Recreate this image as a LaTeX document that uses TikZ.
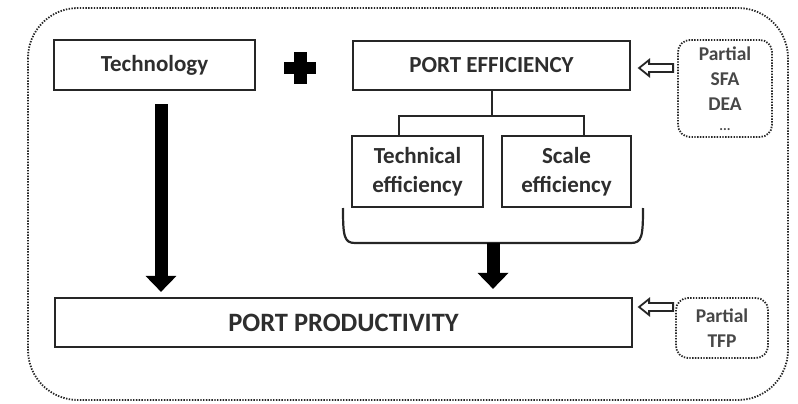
\documentclass[tikz,border=0pt]{standalone}
\usepackage{fontspec}
\setmainfont{Carlito}
\usetikzlibrary{arrows.meta,calc}
\begin{document}
\begin{tikzpicture}[x=1pt,y=-1pt,
  box/.style={draw=black!85,line width=2.2pt,fill=white,inner sep=0pt,align=center,
    font=\fontsize{23}{29}\selectfont\bfseries\color{black!82}},
  dotbox/.style={draw=black!85,line width=1.8pt,dash pattern=on 1.4pt off 1.4pt,rounded corners=12pt,
    inner sep=0pt,align=center,font=\fontsize{19.5}{25}\selectfont\bfseries\color{black!72}},
  bigarrow/.style={line width=13pt,black,-{Triangle[width=30pt,length=16pt]}},
  hollow/.style={draw=black!85,line width=1.8pt,fill=white,line join=miter},
  conn/.style={draw=black!85,line width=2pt}]
\useasboundingbox (0,0) rectangle (798,404);
% outer frame
\draw[black!85,line width=1.8pt,dash pattern=on 1.4pt off 1.4pt,rounded corners=50pt] (28,8) rectangle (788,400);
% boxes
\node[box,minimum width=201pt,minimum height=50pt] (tech) at (154.5,65) {Technology};
\node[box,minimum width=277pt,minimum height=49pt] (pe) at (491.5,65.5) {PORT EFFICIENCY};
\node[box,minimum width=131pt,minimum height=71pt] (te) at (417.5,171.5) {Technical\\efficiency};
\node[box,minimum width=129pt,minimum height=71pt] (se) at (566.5,171.5) {Scale\\efficiency};
\node[box,minimum width=577pt,minimum height=49pt,font=\fontsize{26.5}{30}\selectfont\bfseries\color{black!82}] (pp) at (343.5,322.5) {PORT PRODUCTIVITY};
\node[dotbox,minimum width=94pt,minimum height=97pt] (m1) at (725,88.5) {Partial\\SFA\\DEA\\[-5pt]{\fontsize{14}{14}\selectfont...}};
\node[dotbox,minimum width=92pt,minimum height=60pt] (m2) at (722,328) {Partial\\TFP};
% plus sign
\fill[black] (300-16,68-6) rectangle (300+16,68+6);
\fill[black] (300-6.5,68-16) rectangle (300+6.5,68+16);
% tree connector
\coordinate (split) at (pe.south |- 0,116);
\draw[conn] (pe.south) -- (split);
\draw[conn] ($(te.north)+(-18.5,0)$) |- (split) -| ($(se.north)+(17.5,0)$);
% brace under efficiency boxes
\coordinate (bl) at (343,208);
\coordinate (br) at (643,208);
\coordinate (bm) at (493,243);
\draw[conn,line width=2.2pt] (bl) .. controls (343,236) and (344,243) .. (355,243) -- (631,243)
  .. controls (642,243) and (643,236) .. (br);
% big arrows
\draw[bigarrow] ($(tech.south)+(6.5,13)$) -- ($(pp.north -| tech.south)+(6.5,-5)$);
\draw[bigarrow] (bm) -- ($(pp.north -| bm)+(0,-8)$);
% hollow arrows
\coordinate (h1) at ($(pe.east)+(8,2.5)$);
\coordinate (h2) at ($(pp.east)+(6,-15.5)$);
\foreach \h in {h1,h2}{
  \draw[hollow] (\h) -- ++(10,-8) -- ++(0,4) -- ++(24,0) -- ++(0,8) -- ++(-24,0) -- ++(0,4) -- cycle;
}
\end{tikzpicture}
\end{document}
